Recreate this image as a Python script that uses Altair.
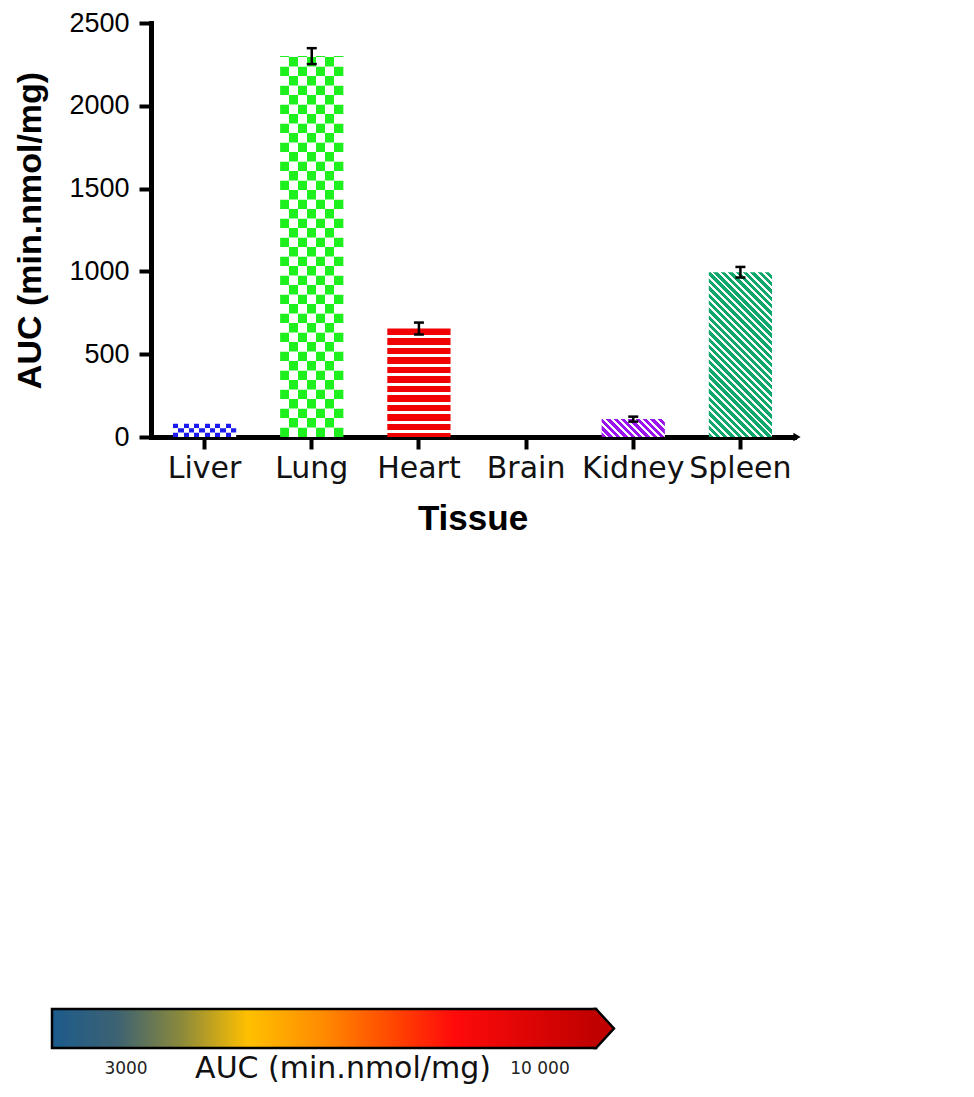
import math
import altair as alt
import pandas as pd

# ---------------- data ----------------
tissues = ["Liver", "Lung", "Heart", "Brain", "Kidney", "Spleen"]
auc_mean = [80, 2300, 655, 0, 108, 995]
auc_sd = [0, 48, 36, 0, 15, 32]
y_ticks = [0, 500, 1000, 1500, 2000, 2500]

cb_ticks = [3000, 10000]
cb_tick_labels = ["3000", "10 000"]
cb_title = "AUC (min.nmol/mg)"
cb_colors = ["#1b5b8c", "#3d6272", "#8d8a3a", "#ffc000", "#ff8a00", "#ff4a00", "#ff0a0a", "#c00000"]

# ---------------- styles ----------------
cb_offsets = [0, 0.12, 0.24, 0.36, 0.5, 0.62, 0.74, 1]
fill_colors = {"Liver": "#1a1aee", "Lung": "#1ef01e", "Heart": "#f00000",
               "Brain": "#000000", "Kidney": "#9b14f0", "Spleen": "#10a86a"}

W, H = 643, 414
YMAX = 2500
PAD_INNER = 0.41
BW = W / len(tissues) * (1 - PAD_INNER)
PX = H / YMAX  # pixels per unit

df = pd.DataFrame({"Tissue": tissues, "AUC": auc_mean, "SD": auc_sd})
df["lo"] = df["AUC"] - df["SD"]
df["hi"] = df["AUC"] + df["SD"]


def banded_stops(n_bands, color, frac, invert=False):
    c1, c2 = (color, "white") if not invert else ("white", color)
    stops = []
    i = 0
    while i < n_bands:
        a = i / n_bands
        b = min((i + frac) / n_bands, 1.0)
        c = min((i + 1) / n_bands, 1.0)
        stops.append({"offset": round(a, 5), "color": c1})
        stops.append({"offset": round(b, 5), "color": c1})
        if b < 1:
            stops.append({"offset": round(b, 5), "color": c2})
            stops.append({"offset": round(c, 5), "color": c2})
        i += 1
    return stops


def grad(x1, y1, x2, y2, stops):
    return {"gradient": "linear", "x1": x1, "y1": y1, "x2": x2, "y2": y2, "stops": stops}


x_scale = alt.Scale(domain=tissues, paddingInner=PAD_INNER, paddingOuter=PAD_INNER / 2)
y_scale = alt.Scale(domain=[0, YMAX], nice=False)

x_axis = alt.Axis(title="Tissue", labelAngle=0, labelFont="DejaVu Sans", labelFontSize=30,
                  labelColor="#111111", labelPadding=4, labelOverlap=False, labelLimit=300,
                  tickSize=12, tickWidth=4, tickColor="black", domainColor="black",
                  domainWidth=5, domainCap="square", titleFont="Liberation Sans",
                  titleFontSize=35, titleFontWeight="bold", titleColor="black", titlePadding=18)
y_axis = alt.Axis(values=y_ticks, title="AUC (min.nmol/mg)", format="d",
                  labelFont="Liberation Sans", labelFontSize=27, labelColor="black",
                  labelPadding=10, tickSize=12, tickWidth=4, tickColor="black",
                  domainWidth=5, domainColor="black", domainCap="square", grid=False,
                  titleFont="Liberation Sans", titleFontSize=34, titleFontWeight="bold",
                  titleColor="black", titlePadding=21)

x_enc = alt.X("Tissue:N", sort=tissues, scale=x_scale, axis=x_axis)

layers = []

# ---- checker bars (Liver, Lung): rows of cells ----
def checker_layers(tissue, n_cols, n_rows=None, cell_px=None):
    v = float(df.loc[df.Tissue == tissue, "AUC"].iloc[0])
    if n_rows is not None:
        cell = v / n_rows
    else:
        cell = cell_px / PX
    rows = []
    k = 0
    y = 0.0
    while y < v - 1e-9:
        y2 = min(y + cell, v)
        rows.append({"Tissue": tissue, "y0": y, "y1": y2, "parity": k % 2})
        y = y2
        k += 1
    rdf = pd.DataFrame(rows)
    out = []
    for p in (0, 1):
        sub = rdf[rdf.parity == p]
        if sub.empty:
            continue
        g = grad(0, 0, 1, 0, banded_stops(n_cols / 2, fill_colors[tissue], 0.5, invert=(p == 1)))
        out.append(alt.Chart(sub).mark_bar(fill=g, strokeWidth=0).encode(
            x=x_enc, y=alt.Y("y0:Q", scale=y_scale, axis=y_axis), y2="y1:Q"))
    return out

layers += checker_layers("Liver", 12, n_rows=3)
layers += checker_layers("Lung", 7, cell_px=9.5)

# ---- horizontal stripes (Heart) ----
hv = float(df.loc[df.Tissue == "Heart", "AUC"].iloc[0])
h_px = hv * PX
heart_grad = grad(0, 0, 0, 1, banded_stops(h_px / 9.5, fill_colors["Heart"], 0.72))
layers.append(alt.Chart(df[df.Tissue == "Heart"]).mark_bar(fill=heart_grad, strokeWidth=0).encode(
    x=x_enc, y=alt.Y("AUC:Q", scale=y_scale, axis=y_axis)))

# ---- diagonal stripes (Kidney, Spleen) ----
for t in ["Kidney", "Spleen"]:
    v = float(df.loc[df.Tissue == t, "AUC"].iloc[0])
    w, h = BW, v * PX
    s = (w + h) / (w * w + h * h)
    n = ((w + h) / math.sqrt(2)) / 5.2
    g = grad(0, 1, w * s, 1 - h * s, banded_stops(n, fill_colors[t], 0.6))
    layers.append(alt.Chart(df[df.Tissue == t]).mark_bar(fill=g, strokeWidth=0).encode(
        x=x_enc, y=alt.Y("AUC:Q", scale=y_scale, axis=y_axis)))

# ---- error bars ----
err = df[df.SD > 0]
layers.append(alt.Chart(err).mark_rule(color="black", strokeWidth=2.5).encode(
    x=x_enc, y=alt.Y("lo:Q", scale=y_scale, axis=y_axis), y2="hi:Q"))
for f in ["lo", "hi"]:
    layers.append(alt.Chart(err).mark_tick(color="black", thickness=2.5, size=10, opacity=1).encode(
        x=x_enc, y=alt.Y(f + ":Q", scale=y_scale, axis=y_axis)))

# ---- arrow head at the end of the x axis ----
layers.append(alt.Chart(pd.DataFrame({"a": [0]})).mark_point(
    shape="triangle-right", size=70, filled=True, color="black", opacity=1).encode(
    x=alt.value(W + 3), y=alt.value(H)))

top = alt.layer(*layers).properties(width=W, height=H)

# ---------------- colour bar ----------------
CB_W, CB_H = 463, 39
cb_label_px = [-25, 389]
upp = (cb_ticks[1] - cb_ticks[0]) / (cb_label_px[1] - cb_label_px[0])
d0 = cb_ticks[0] - cb_label_px[0] * upp
d1 = d0 + CB_W * upp
bar_lo = d0 + (-99) * upp
bar_hi = d0 + 445 * upp
tip_c = d0 + 454 * upp
cb_scale = alt.Scale(domain=[d0, d1], nice=False, zero=False)

cb_grad = grad(0, 0, 1, 0, [{"offset": o, "color": c} for o, c in zip(cb_offsets, cb_colors)])

cb_rect = alt.Chart(pd.DataFrame({"lo": [bar_lo], "hi": [bar_hi]})).mark_rect(
    fill=cb_grad, stroke="black", strokeWidth=2.5).encode(
    x=alt.X("lo:Q", scale=cb_scale, axis=None), x2="hi:Q")

cb_tip = alt.Chart(pd.DataFrame({"v": [tip_c]})).mark_point(
    shape="M-0.62,-1L-0.46,-1L0.46,0L-0.46,1L-0.62,1", size=CB_H * CB_H, filled=True,
    fill=cb_colors[-1], stroke="black", strokeWidth=2.5, opacity=1, fillOpacity=1).encode(
    x=alt.X("v:Q", scale=cb_scale, axis=None), y=alt.value(CB_H / 2))

cb_lab = alt.Chart(pd.DataFrame({"v": cb_ticks, "t": cb_tick_labels})).mark_text(
    font="DejaVu Sans", fontSize=17, color="#222222", baseline="middle").encode(
    x=alt.X("v:Q", scale=cb_scale, axis=None), y=alt.value(60), text="t:N")

cb_ttl = alt.Chart(pd.DataFrame({"t": [cb_title]})).mark_text(
    font="DejaVu Sans", fontSize=30, color="#111111", baseline="middle").encode(
    x=alt.value(192), y=alt.value(60), text="t:N")

cbar = alt.layer(cb_rect, cb_tip, cb_lab, cb_ttl).properties(width=CB_W, height=CB_H)

chart = alt.vconcat(top, cbar, spacing=468).properties(
    padding={"left": 5, "top": 1, "right": 5, "bottom": 5}
).configure_view(stroke=None)

chart.save("out.html", embed_options={"renderer": "svg", "actions": False})
